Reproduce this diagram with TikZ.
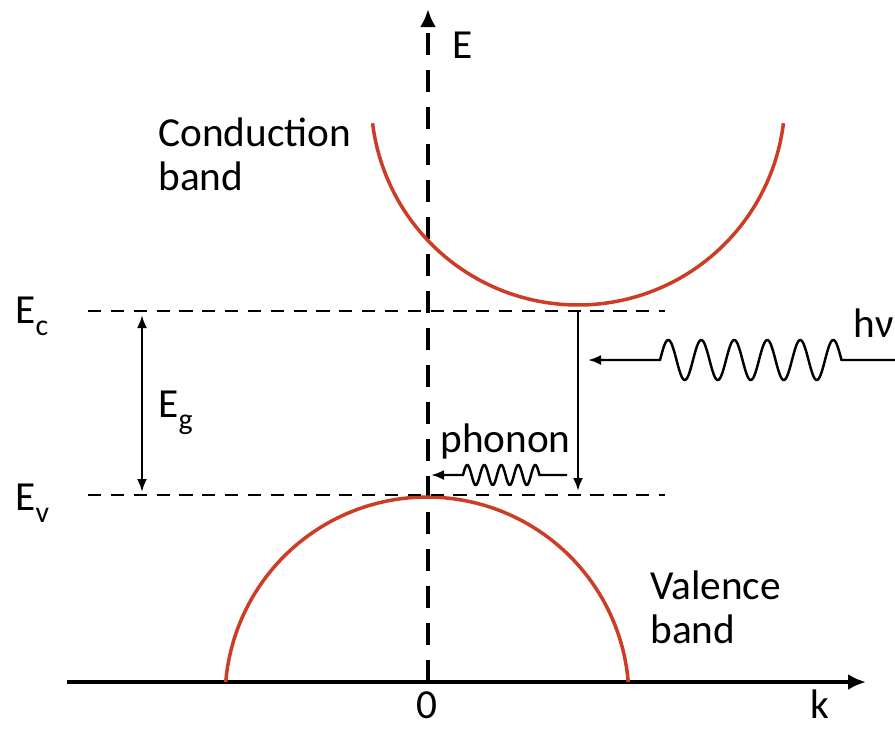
\documentclass[tikz,border=0pt]{standalone}
\usepackage{fontspec}
\setmainfont{Carlito}
\usepackage{tikz}
\usetikzlibrary{arrows.meta}
\definecolor{bandred}{HTML}{CC3D26}
\newcommand{\lowidx}[1]{\raisebox{-0.3em}{\fontsize{17}{17}\selectfont #1}}

\begin{document}
\begin{tikzpicture}[x=0.02cm,y=-0.02cm,font=\fontsize{23.5}{24.5}\selectfont,
  band/.style={draw=bandred,line width=2pt},
  level/.style={dash pattern=on 7.5pt off 5.5pt,line width=1.4pt},
  tiparrow/.style={-{Latex[length=2.6mm,width=2mm]},line width=1.4pt},
  lbl/.style={inner sep=0pt,anchor=base west}]
\useasboundingbox (0,0) rectangle (895,728);
% axes
\coordinate (korigin) at (67,682);
\coordinate (kend) at (866,682);
\coordinate (ebottom) at (428,682);
\coordinate (etop) at (428,9);
\draw[line width=2.8pt,-{Latex[length=3.6mm,width=3.2mm]}] (korigin) -- (kend);
\draw[line width=2.3pt,dash pattern=on 12.5pt off 8.5pt,-{Latex[length=3.6mm,width=3.2mm]}] (ebottom) -- (etop);
\node[lbl,anchor=base] (klab) at (820,718) {k};
\node[lbl,anchor=base] (zero) at (427,718) {0};
\node[lbl] (elab) at (452,58) {E};
% bands
\draw[band] plot[domain=7:173,samples=90] ({578+207*cos(\x)},{98+207*sin(\x)});
\draw[band] plot[domain=4.8:175.2,samples=90] ({427+202*cos(\x)},{699-202*sin(\x)});
\node[lbl,align=left] (cband) at (158,190) {Conduction\\band};
\node[lbl,align=left] (vband) at (650,643) {Valence\\band};
% band edges
\coordinate (ecl) at (88,311);  \coordinate (ecr) at (665,311);
\coordinate (evl) at (88,495);  \coordinate (evr) at (665,495);
\draw[level] (ecl) -- (ecr);
\draw[level] (evl) -- (evr);
\node[lbl] (eclab) at (15,323) {E\lowidx{c}};
\node[lbl] (evlab) at (15,510) {E\lowidx{v}};
\draw[line width=1.4pt,{Latex[length=2.6mm,width=2mm]}-{Latex[length=2.6mm,width=2mm]}] (142,315) -- (142,492);
\node[lbl] (eglab) at (158,417) {E\lowidx{g}};
% transition
\coordinate (up) at (578,311);
\coordinate (down) at (578,491);
\draw[tiparrow] (up) -- (down);
% photon
\coordinate (hvstart) at (895,360);
\coordinate (hvtip) at (588,360);
\draw[tiparrow] (hvstart) -- plot[domain=1980:0,samples=300] ({660+\x/360*33},{360-20*sin(\x)}) -- (hvtip);
\node[lbl] (hvlab) at (853,337) {hν};
% phonon
\coordinate (phstart) at (567,475);
\coordinate (phtip) at (431,475);
\draw[tiparrow] (phstart) -- plot[domain=1620:0,samples=200] ({463+\x/360*17},{475-10*sin(\x)}) -- (phtip);
\node[lbl] (phlab) at (440,452) {phonon};
\end{tikzpicture}
\end{document}
